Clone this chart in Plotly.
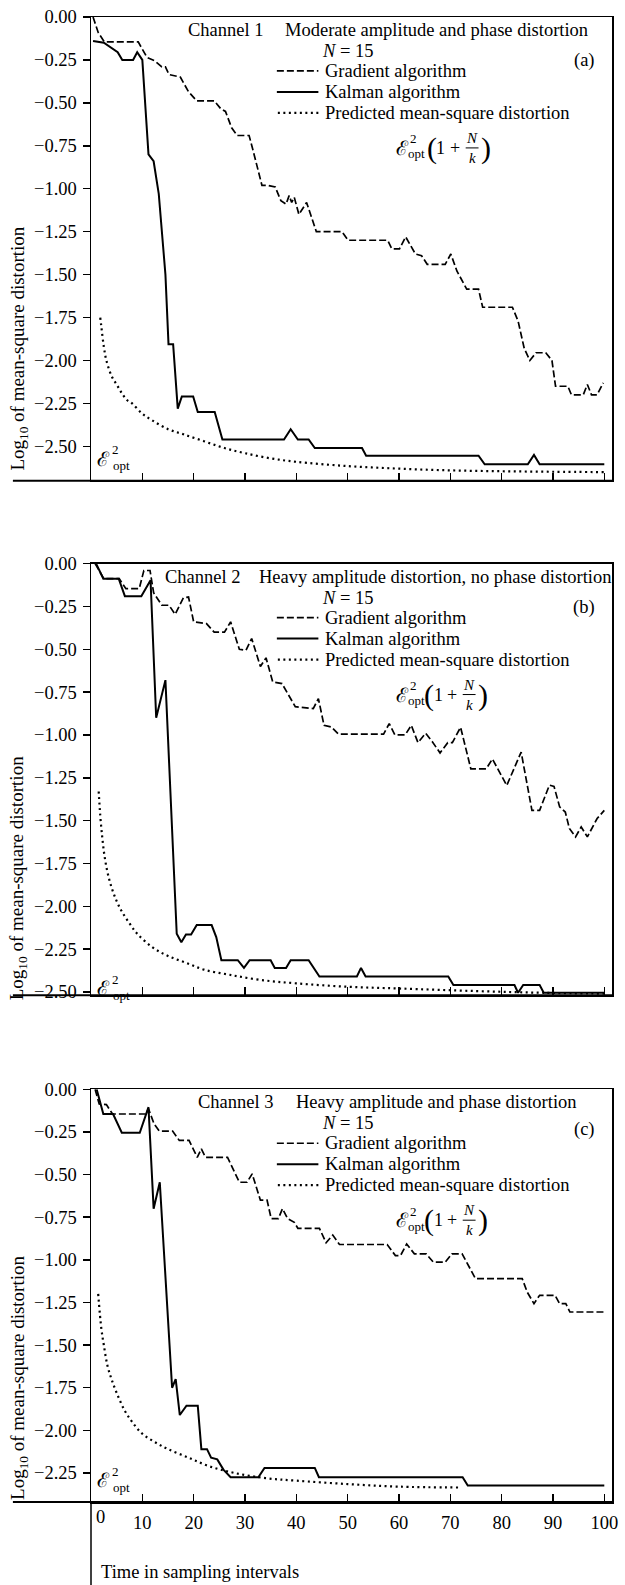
import plotly.graph_objects as go

FONT = "Liberation Serif, Times New Roman, DejaVu Serif, serif"

# ---------------- data ----------------
# Panel (a) Channel 1
a_grad_x = [0.4, 1.4, 2.6, 9.2, 10.9, 12.4, 13.8, 14.5, 15.2, 17.4, 19.0, 20.6, 24.0, 25.3, 26.2, 27.4, 28.5, 30.8, 31.6, 32.4,
            33.3, 34.4, 35.9, 37.0, 38.0, 38.6, 39.1, 39.6, 40.5, 42.0, 43.9, 48.9, 50.1, 57.8, 58.6, 60.1, 61.3, 63.2, 64.4, 65.5,
            69.0, 70.1, 71.3, 73.2, 75.5, 76.3, 82.1, 83.2, 84.4, 85.5, 86.7, 88.6, 89.8, 90.5, 92.9, 93.6, 95.9, 96.7, 97.5, 98.6, 99.8]
a_grad_y = [0, -0.09, -0.145, -0.145, -0.235, -0.255, -0.29, -0.29, -0.335, -0.35, -0.435, -0.488, -0.488, -0.535, -0.55, -0.645, -0.69, -0.69, -0.78, -0.88,
            -0.98, -0.98, -0.99, -1.07, -1.09, -1.04, -1.08, -1.05, -1.15, -1.08, -1.25, -1.25, -1.30, -1.30, -1.35, -1.35, -1.28, -1.38, -1.39, -1.44,
            -1.44, -1.38, -1.48, -1.585, -1.585, -1.69, -1.69, -1.77, -1.93, -2.00, -1.955, -1.955, -2.00, -2.15, -2.15, -2.20, -2.20, -2.14, -2.20, -2.20, -2.13]
a_kal_x = [0.4, 2.5, 5.2, 6.1, 8.2, 9.0, 10.0, 11.2, 12.2, 13.2, 14.5, 15.1, 16.0, 16.9, 17.7, 19.9, 20.8, 24.1, 25.6, 37.6,
           38.9, 40.3, 42.4, 43.6, 52.8, 53.6, 75.5, 76.7, 85.1, 86.3, 87.4, 100.0]
a_kal_y = [-0.14, -0.15, -0.205, -0.25, -0.25, -0.205, -0.25, -0.80, -0.84, -1.03, -1.50, -1.905, -1.905, -2.28, -2.21, -2.21, -2.30, -2.30, -2.46, -2.46,
           -2.40, -2.46, -2.46, -2.51, -2.51, -2.555, -2.555, -2.605, -2.605, -2.55, -2.605, -2.605]
a_pred_x = [1.8, 2.0, 2.5, 3.0, 4.0, 5.0, 6.0, 7.0, 8.0, 10, 12, 15, 18, 22, 26, 30, 35, 40, 50, 60, 70, 80, 90, 100]
a_pred_y = [-1.75, -1.80, -1.92, -2.00, -2.09, -2.14, -2.19, -2.23, -2.25, -2.31, -2.35, -2.40, -2.43, -2.47, -2.51, -2.54, -2.57, -2.59,
            -2.615, -2.63, -2.64, -2.645, -2.648, -2.65]

# Panel (b) Channel 2
b_grad_x = [0.8, 2.5, 5.5, 6.8, 9.4, 10.3, 11.5, 12.2, 13.8, 15.2, 16.4, 18.0, 19.0, 20.0, 22.5, 24.0, 26.0, 27.2, 28.9, 30.2,
            31.3, 33.0, 34.1, 35.4, 37.2, 39.8, 43.3, 44.3, 45.4, 46.8, 48.2, 57.0, 58.1, 59.2, 61.2, 62.4, 63.7, 65.2, 66.5, 68.0,
            69.5, 70.4, 72.0, 74.0, 77.0, 78.2, 81.0, 83.8, 85.9, 87.4, 89.3, 90.2, 91.3, 92.4, 93.2, 94.4, 95.5, 96.7, 98.6, 100.0]
b_grad_y = [0, -0.088, -0.088, -0.146, -0.146, -0.04, -0.04, -0.17, -0.243, -0.243, -0.296, -0.20, -0.195, -0.34, -0.35, -0.40, -0.40, -0.34, -0.50, -0.506,
            -0.437, -0.60, -0.55, -0.69, -0.70, -0.835, -0.846, -0.788, -0.944, -0.953, -0.995, -0.995, -0.934, -1.0, -1.0, -0.944, -1.045, -0.99, -1.04, -1.105,
            -1.045, -1.045, -0.955, -1.198, -1.198, -1.14, -1.295, -1.10, -1.44, -1.44, -1.293, -1.30, -1.42, -1.45, -1.546, -1.595, -1.537, -1.595, -1.488, -1.44]
b_kal_x = [1.0, 2.4, 5.4, 6.6, 9.8, 11.6, 12.7, 14.5, 16.7, 17.6, 18.5, 19.5, 20.6, 23.5, 24.4, 25.4, 28.6, 29.8, 30.9, 35.0,
           35.8, 38.0, 38.9, 42.4, 44.5, 51.8, 52.6, 53.5, 69.6, 70.6, 82.5, 83.2, 84.2, 87.4, 88.2, 100.0]
b_kal_y = [0, -0.088, -0.088, -0.19, -0.19, -0.097, -0.90, -0.68, -2.16, -2.21, -2.165, -2.165, -2.11, -2.11, -2.18, -2.315, -2.315, -2.36, -2.315, -2.315,
           -2.36, -2.36, -2.315, -2.315, -2.41, -2.41, -2.36, -2.41, -2.41, -2.46, -2.46, -2.505, -2.46, -2.46, -2.505, -2.505]
b_pred_x = [1.5, 1.8, 2.2, 2.6, 3.2, 4.0, 5.0, 6.0, 7.5, 9.0, 12, 15, 18.5, 22, 27, 33, 40, 50, 60, 75, 88, 100]
b_pred_y = [-1.33, -1.47, -1.60, -1.70, -1.80, -1.89, -1.97, -2.03, -2.10, -2.16, -2.24, -2.29, -2.33, -2.37, -2.40, -2.43, -2.45, -2.47,
            -2.48, -2.495, -2.505, -2.51]

# Panel (c) Channel 3
c_grad_x = [0.8, 1.6, 3.0, 4.2, 10.6, 11.2, 12.3, 13.3, 15.9, 17.2, 19.1, 20.7, 21.5, 22.3, 26.6, 28.9, 30.4, 31.4, 33.0, 34.3,
            35.1, 36.5, 37.3, 38.3, 39.6, 40.3, 44.5, 45.8, 47.1, 48.4, 57.7, 59.3, 60.3, 61.5, 63.0, 65.3, 66.7, 69.0, 70.3, 72.3,
            74.9, 84.0, 85.0, 86.3, 87.4, 90.4, 91.3, 92.5, 93.3, 100.0]
c_grad_y = [0, -0.086, -0.09, -0.145, -0.145, -0.115, -0.204, -0.245, -0.245, -0.30, -0.30, -0.399, -0.35, -0.399, -0.399, -0.545, -0.545, -0.496, -0.65, -0.65,
            -0.758, -0.758, -0.70, -0.758, -0.78, -0.815, -0.815, -0.90, -0.855, -0.91, -0.91, -0.975, -0.975, -0.907, -0.965, -0.965, -1.014, -1.014, -0.965, -0.965,
            -1.11, -1.11, -1.19, -1.257, -1.208, -1.208, -1.257, -1.257, -1.306, -1.306]
c_kal_x = [1.1, 2.4, 4.3, 6.0, 9.5, 11.2, 12.2, 13.4, 15.8, 16.5, 17.3, 18.6, 20.8, 21.5, 22.6, 23.4, 24.6, 25.8, 27.2, 32.6,
           33.8, 43.6, 44.4, 72.4, 73.4, 100.0]
c_kal_y = [0, -0.145, -0.145, -0.255, -0.255, -0.105, -0.70, -0.545, -1.75, -1.70, -1.91, -1.855, -1.855, -2.11, -2.11, -2.16, -2.17, -2.23, -2.275, -2.275,
           -2.22, -2.22, -2.275, -2.275, -2.323, -2.323]
c_pred_x = [1.4, 2.0, 2.5, 3.2, 4.0, 5.0, 6.5, 8.0, 10, 12.5, 15, 19, 23, 28, 34, 40, 50, 60, 72]
c_pred_y = [-1.20, -1.40, -1.50, -1.62, -1.70, -1.78, -1.88, -1.95, -2.02, -2.07, -2.11, -2.16, -2.21, -2.25, -2.28, -2.295, -2.315, -2.33, -2.335]

channels = ["Channel 1", "Channel 2", "Channel 3"]
descriptions = ["Moderate amplitude and phase distortion",
                "Heavy amplitude distortion, no phase distortion",
                "Heavy amplitude and phase distortion"]
panel_tags = ["(a)", "(b)", "(c)"]
series_names = ["Gradient algorithm", "Kalman algorithm", "Predicted mean-square distortion"]
x_ticks = [10, 20, 30, 40, 50, 60, 70, 80, 90, 100]
y_ticks_ab = [0, -0.25, -0.5, -0.75, -1.0, -1.25, -1.5, -1.75, -2.0, -2.25, -2.5]
y_ticks_c = [0, -0.25, -0.5, -0.75, -1.0, -1.25, -1.5, -1.75, -2.0, -2.25]

# ---------------- layout geometry ----------------
W, H = 625, 1585
L, R, T, B = 91, 7, 16, 83
PW = W - L - R
PH = H - T - B


def px2x(px):
    return (px - L) / PW


def px2y(py):
    return (H - B - py) / PH


tops = [16, 563, 1089]
bottoms = [480, 995, 1502]
yranges = [[-2.70, 0], [-2.52, 0], [-2.42, 0]]
xrange_ = [0, 101.5]

DASH = "7px,3px"
DOT = "2px,3.5px"
TXT = 18.5

fig = go.Figure()
data = [
    (a_grad_x, a_grad_y, a_kal_x, a_kal_y, a_pred_x, a_pred_y),
    (b_grad_x, b_grad_y, b_kal_x, b_kal_y, b_pred_x, b_pred_y),
    (c_grad_x, c_grad_y, c_kal_x, c_kal_y, c_pred_x, c_pred_y),
]
for i, (gx, gy, kx, ky, px_, py_) in enumerate(data):
    xa = "x" if i == 0 else f"x{i+1}"
    ya = "y" if i == 0 else f"y{i+1}"
    fig.add_trace(go.Scatter(x=gx, y=gy, mode="lines", name=series_names[0], xaxis=xa, yaxis=ya,
                             line=dict(color="black", width=1.7, dash=DASH), showlegend=False))
    fig.add_trace(go.Scatter(x=kx, y=ky, mode="lines", name=series_names[1], xaxis=xa, yaxis=ya,
                             line=dict(color="black", width=2.0), showlegend=False))
    fig.add_trace(go.Scatter(x=px_, y=py_, mode="lines", name=series_names[2], xaxis=xa, yaxis=ya,
                             line=dict(color="black", width=2.2, dash=DOT, shape="spline"), showlegend=False))

tickfont = dict(family=FONT, size=18.5, color="black")
layout_axes = {}
for i in range(3):
    xk = "xaxis" if i == 0 else f"xaxis{i+1}"
    yk = "yaxis" if i == 0 else f"yaxis{i+1}"
    xa_anchor = "y" if i == 0 else f"y{i+1}"
    ya_anchor = "x" if i == 0 else f"x{i+1}"
    layout_axes[xk] = dict(domain=[0, 1], range=xrange_, anchor=xa_anchor, tickvals=x_ticks,
                           ticktext=[str(v) for v in x_ticks], ticks="inside", ticklen=8, tickwidth=1.5,
                           tickcolor="black", showline=True, linecolor="black", linewidth=1.5, mirror=True,
                           showgrid=False, zeroline=False, showticklabels=(i == 2), tickfont=tickfont,
                           ticklabelstandoff=3)
    layout_axes[yk] = dict(domain=[px2y(bottoms[i]), px2y(tops[i])], range=yranges[i], anchor=ya_anchor,
                           tickvals=(y_ticks_c if i == 2 else y_ticks_ab), tickformat=".2f",
                           ticks="outside", ticklen=7, tickwidth=1.5, tickcolor="black",
                           showline=True, linecolor="black", linewidth=1.5, mirror=True,
                           showgrid=False, zeroline=False, tickfont=tickfont, ticklabelstandoff=2)

annotations = []
shapes = []


def ann(text, px, py, size=TXT, xanchor="left", yanchor="middle", angle=0):
    annotations.append(dict(text=text, x=px2x(px), y=px2y(py), xref="paper", yref="paper",
                            showarrow=False, xanchor=xanchor, yanchor=yanchor, textangle=angle,
                            font=dict(family=FONT, size=size, color="black"), borderpad=0))


def hline(px0, px1, py, width=1.5, dash="solid"):
    shapes.append(dict(type="line", xref="paper", yref="paper", x0=px2x(px0), x1=px2x(px1),
                       y0=px2y(py), y1=px2y(py), line=dict(color="black", width=width, dash=dash)))


header_x = [(188, 286), (165, 260), (198, 297)]
formula_shift = [0, -3, -3]
eopt_y = [458, 988, 1480]
ytitle_c = [348, 878, 1378]

for i in range(3):
    t = tops[i]
    cx, dx = header_x[i]
    ann(channels[i], cx, t + 13)
    ann(descriptions[i], dx, t + 13)
    ann("<i>N</i> = 15", 324, t + 34)
    ann(panel_tags[i], 602, t + (44 if i < 2 else 40), xanchor="right")
    # legend samples
    hline(279, 321, t + 54, width=1.7, dash=DASH)
    hline(279, 321, t + 75, width=2.0)
    hline(280, 321, t + 96, width=2.2, dash=DOT)
    ann(series_names[0], 327, t + 54)
    ann(series_names[1], 327, t + 75)
    ann(series_names[2], 327, t + 96)
    # formula E_opt^2 (1 + N/k)
    fy = t + 131
    s = formula_shift[i]
    ann("ℰ", 406, fy, size=20, xanchor="center")
    ann("2", 417, fy - 9, size=13, xanchor="center")
    ann("opt", 411, fy + 6, size=13)
    ann("(", 436 + s, fy, size=30, xanchor="center")
    ann("1", 445 + s, fy, size=18, xanchor="center")
    ann("+", 459 + s, fy, size=18, xanchor="center")
    ann("<i>N</i>", 476 + s, fy - 10, size=15, xanchor="center")
    hline(470 + s, 483 + s, fy, width=1.0)
    ann("<i>k</i>", 477 + s, fy + 10, size=15, xanchor="center")
    ann(")", 491 + s, fy, size=30, xanchor="center")
    # E_opt^2 marker at bottom-left
    ey = eopt_y[i]
    ann("ℰ", 104, ey, size=20, xanchor="center")
    ann("2", 116, ey - 9, size=13, xanchor="center")
    ann("opt", 112, ey + 7, size=13)
    # y-axis title
    ann("Log<sub>10</sub> of mean-square distortion", 18, ytitle_c[i], size=19,
        xanchor="center", yanchor="middle", angle=-90)
    # extended bottom axis line
    hline(12, L + PW, bottoms[i], width=2.0)

# vertical axis extension below last panel and its caption
shapes.append(dict(type="line", xref="paper", yref="paper", x0=0, x1=0, y0=0, y1=px2y(H),
                   line=dict(color="black", width=1.5)))
ann("0", 101, 1517, size=18.5, xanchor="center")
ann("Time in sampling intervals", 100, 1572, size=TXT)

fig.update_layout(width=W, height=H, margin=dict(l=L, r=R, t=T, b=B, pad=0),
                  paper_bgcolor="white", plot_bgcolor="white",
                  annotations=annotations, shapes=shapes, showlegend=False, **layout_axes)

fig.write_html("out.html", config={"displayModeBar": False, "staticPlot": True},
               post_script="document.body.style.margin='0px';document.body.style.overflow='hidden';")
